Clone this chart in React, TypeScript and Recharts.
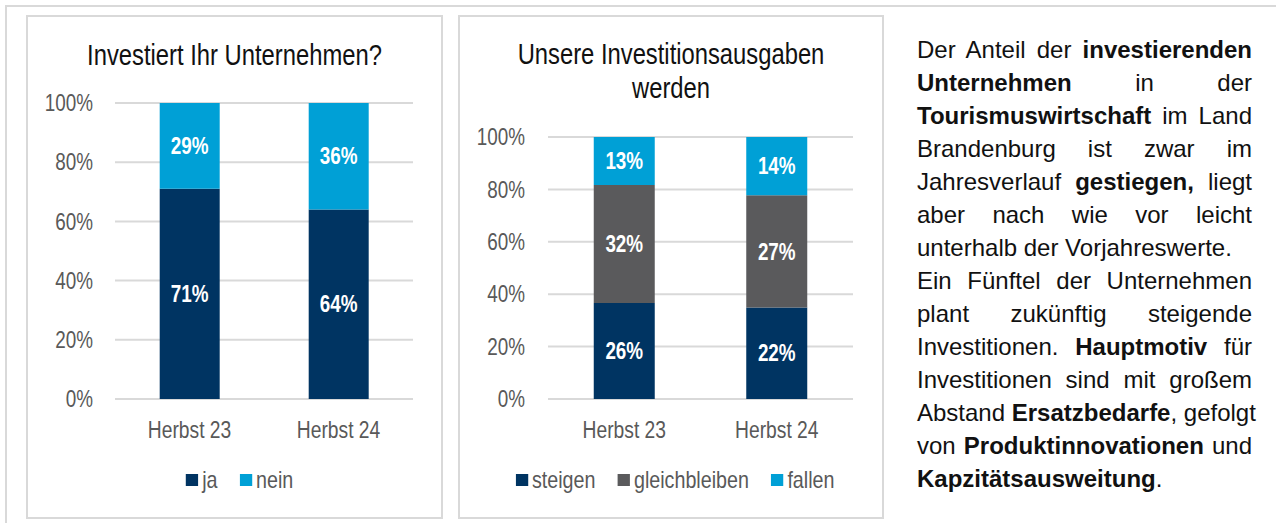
import { BarChart, Bar, XAxis, YAxis, CartesianGrid, Legend, LabelList } from 'recharts';

const categories = ['Herbst 23', 'Herbst 24'];
const ja = [71, 64];
const nein = [29, 36];
const steigen = [26, 22];
const gleichbleiben = [32, 27];
const fallen = [13, 14];
const yTicks = [0, 0.2, 0.4, 0.6, 0.8, 1];

// Arial Narrow is not installed: Liberation Sans squeezed horizontally stands in for it
const FONT = '"Liberation Sans", Arial, sans-serif';
const NARROW = 0.82;
const NAVY = '#003462';
const LIGHT = '#00A0D6';
const GRAY = '#5A5A5C';
const TICK = '#595959';

const investData = categories.map((c, i) => ({ name: c, ja: ja[i], nein: nein[i] }));
const ausgabenData = categories.map((c, i) => ({
  name: c, steigen: steigen[i], gleichbleiben: gleichbleiben[i], fallen: fallen[i],
}));

const pct = (v: number) => `${Math.round(v * 100)}%`;

const XTick = ({ x, y, payload }: any) => (
  <g transform={`translate(${x},${y})`}>
    <text transform={`scale(${NARROW},1)`} textAnchor="middle" dy="0.71em" fill={TICK} fontSize={23.5} fontFamily={FONT}>
      {payload.value}
    </text>
  </g>
);

const YTick = ({ x, y, payload }: any) => (
  <g transform={`translate(${x},${y})`}>
    <text transform={`scale(${NARROW},1)`} textAnchor="end" dy="0.355em" fill={TICK} fontSize={23} fontFamily={FONT}>
      {pct(payload.value)}
    </text>
  </g>
);

const BarLabel = (props: any) => {
  const vb = props.viewBox || props;
  const cx = vb.x + vb.width / 2;
  const cy = vb.y + vb.height / 2;
  return (
    <g transform={`translate(${cx},${cy})`}>
      <text transform={`scale(${NARROW},1)`} textAnchor="middle" dy="0.355em" fill="#fff" fontSize={23} fontWeight="bold" fontFamily={FONT}>
        {`${props.value}%`}
      </text>
    </g>
  );
};

const makeLegend = (order: string[]) => ({ payload }: any) => {
  const items = [...(payload || [])].sort((a: any, b: any) => order.indexOf(a.value) - order.indexOf(b.value));
  return (
    <div style={{ display: 'flex', justifyContent: 'center', alignItems: 'center', height: 36, fontFamily: FONT, fontSize: 24, color: TICK, transform: `scaleX(${NARROW})` }}>
      {items.map((p: any, i: number) => (
        <span key={i} style={{ display: 'flex', alignItems: 'center', marginLeft: i ? 27 : 0 }}>
          <span style={{ width: 15, height: 12, background: p.color, display: 'inline-block', marginRight: 5 }} />
          {p.value}
        </span>
      ))}
    </div>
  );
};
const LegendInvest = makeLegend(['ja', 'nein']);
const LegendAusgaben = makeLegend(['steigen', 'gleichbleiben', 'fallen']);

const frame = (left: number, top: number, width: number, height: number, w = 2): React.CSSProperties => ({
  position: 'absolute', left, top, width, height, border: `${w}px solid #d9d9d9`, boxSizing: 'border-box',
});

const titleStyle = (left: number, top: number, width: number): React.CSSProperties => ({
  position: 'absolute', left, top, width, textAlign: 'center', fontSize: 29, lineHeight: '34px', color: '#111',
  transform: `scaleX(${NARROW})`, transformOrigin: 'center',
});

const textLines: { parts: [string, boolean][]; justify: boolean }[] = [
  { parts: [['Der Anteil der ', false], ['investierenden', true]], justify: true },
  { parts: [['Unternehmen', true], [' in der', false]], justify: true },
  { parts: [['Tourismuswirtschaft', true], [' im Land', false]], justify: true },
  { parts: [['Brandenburg ist zwar im', false]], justify: true },
  { parts: [['Jahresverlauf ', false], ['gestiegen,', true], [' liegt', false]], justify: true },
  { parts: [['aber nach wie vor leicht', false]], justify: true },
  { parts: [['unterhalb der Vorjahreswerte.', false]], justify: false },
  { parts: [['Ein Fünftel der Unternehmen', false]], justify: true },
  { parts: [['plant zukünftig steigende', false]], justify: true },
  { parts: [['Investitionen. ', false], ['Hauptmotiv', true], [' für', false]], justify: true },
  { parts: [['Investitionen sind mit großem', false]], justify: true },
  { parts: [['Abstand ', false], ['Ersatzbedarfe', true], [', gefolgt', false]], justify: true },
  { parts: [['von ', false], ['Produktinnovationen', true], [' und', false]], justify: true },
  { parts: [['Kapzitätsausweitung', true], ['.', false]], justify: false },
];

export default function App() {
  return (
    <div style={{ position: 'absolute', left: 0, top: 0, width: 1276, height: 523, background: '#fff', overflow: 'hidden', fontFamily: FONT }}>
      <div style={frame(5, 5, 1290, 540)} />
      <div style={frame(26, 15, 417, 504)} />
      <div style={frame(458, 15, 426, 504)} />

      <div style={titleStyle(28, 38, 413)}>Investiert Ihr Unternehmen?</div>
      <div style={{ position: 'absolute', left: 28, top: 17 }}>
        <BarChart width={413} height={500} data={investData} stackOffset="expand" barCategoryGap="30%"
          margin={{ top: 86, right: 28, left: 0, bottom: 19 }}>
          <CartesianGrid vertical={false} stroke="#d9d9d9" strokeWidth={2} />
          <XAxis dataKey="name" axisLine={false} tickLine={false} tick={<XTick />} tickMargin={16} height={63} />
          <YAxis ticks={yTicks} domain={[0, 1]} axisLine={false} tickLine={false} tick={<YTick />} tickMargin={16} width={87} />
          <Legend verticalAlign="bottom" content={<LegendInvest />} wrapperStyle={{ left: 5, width: 413, height: 36, bottom: 19 }} />
          <Bar dataKey="ja" name="ja" stackId="a" fill={NAVY} isAnimationActive={false}>
            <LabelList dataKey="ja" content={<BarLabel />} />
          </Bar>
          <Bar dataKey="nein" name="nein" stackId="a" fill={LIGHT} isAnimationActive={false}>
            <LabelList dataKey="nein" content={<BarLabel />} />
          </Bar>
        </BarChart>
      </div>

      <div style={titleStyle(460, 37, 422)}>
        Unsere Investitionsausgaben<br />werden
      </div>
      <div style={{ position: 'absolute', left: 460, top: 17 }}>
        <BarChart width={422} height={500} data={ausgabenData} stackOffset="expand" barCategoryGap="30%"
          margin={{ top: 120, right: 29, left: 0, bottom: 19 }}>
          <CartesianGrid vertical={false} stroke="#d9d9d9" strokeWidth={2} />
          <XAxis dataKey="name" axisLine={false} tickLine={false} tick={<XTick />} tickMargin={16} height={63} />
          <YAxis ticks={yTicks} domain={[0, 1]} axisLine={false} tickLine={false} tick={<YTick />} tickMargin={17} width={88} />
          <Legend verticalAlign="bottom" content={<LegendAusgaben />} wrapperStyle={{ left: 4, width: 422, height: 36, bottom: 19 }} />
          <Bar dataKey="steigen" name="steigen" stackId="a" fill={NAVY} isAnimationActive={false}>
            <LabelList dataKey="steigen" content={<BarLabel />} />
          </Bar>
          <Bar dataKey="gleichbleiben" name="gleichbleiben" stackId="a" fill={GRAY} isAnimationActive={false}>
            <LabelList dataKey="gleichbleiben" content={<BarLabel />} />
          </Bar>
          <Bar dataKey="fallen" name="fallen" stackId="a" fill={LIGHT} isAnimationActive={false}>
            <LabelList dataKey="fallen" content={<BarLabel />} />
          </Bar>
        </BarChart>
      </div>

      <div style={{ position: 'absolute', left: 917, top: 33, width: 335, fontSize: 24, lineHeight: '33px', color: '#111' }}>
        {textLines.map((ln, i) => (
          <div key={i} style={{ textAlign: ln.justify ? 'justify' : 'left', textAlignLast: ln.justify ? 'justify' : 'left', whiteSpace: 'nowrap' }}>
            {ln.parts.map(([t, b], j) => (b ? <b key={j}>{t}</b> : <span key={j}>{t}</span>))}
          </div>
        ))}
      </div>
    </div>
  );
}
